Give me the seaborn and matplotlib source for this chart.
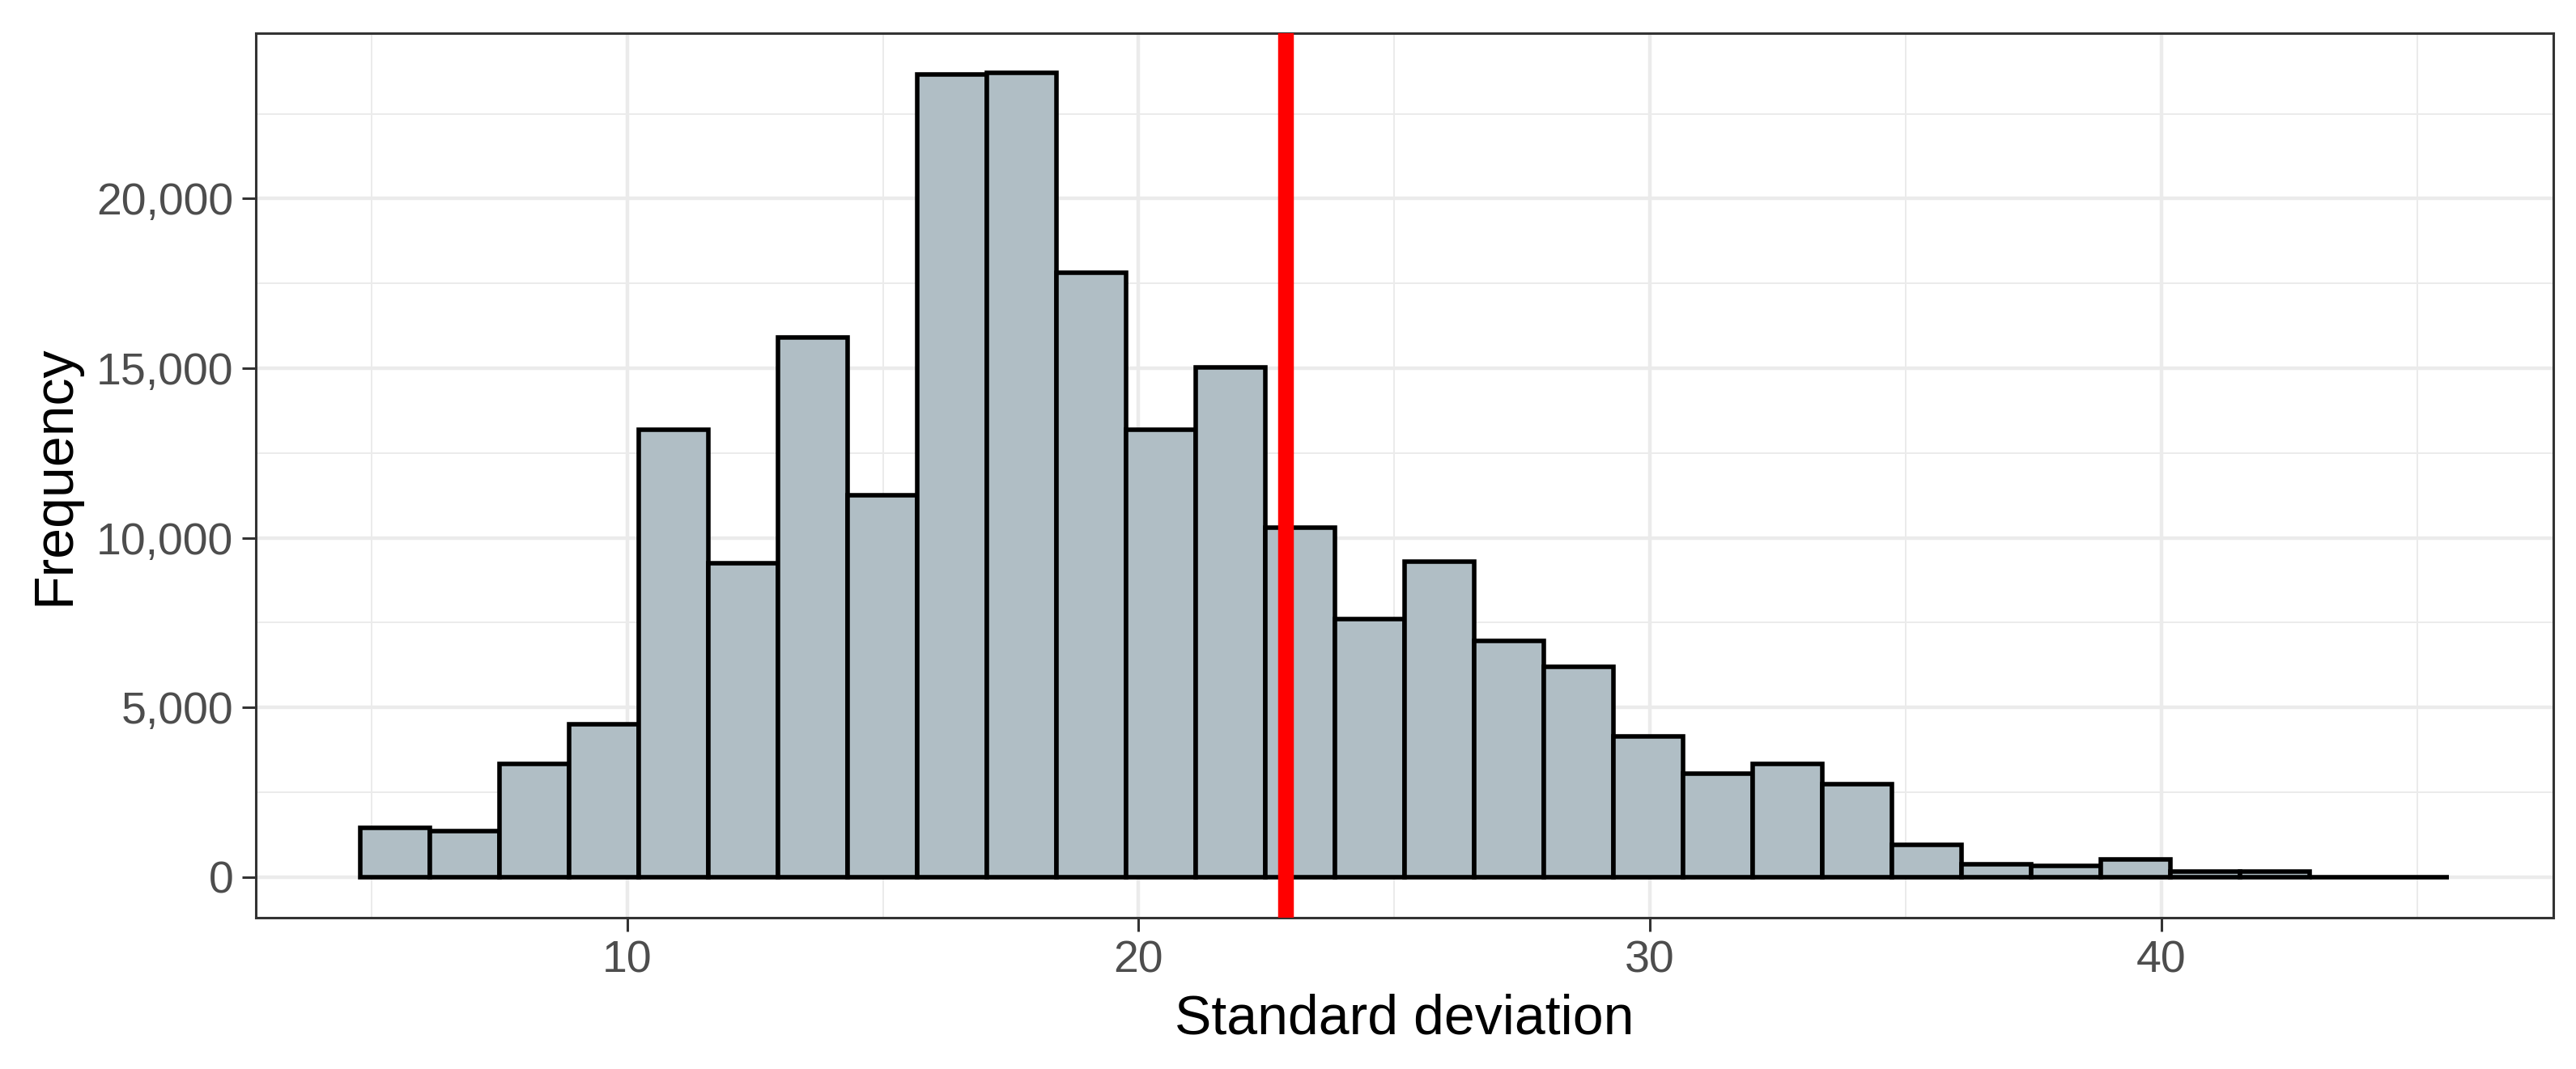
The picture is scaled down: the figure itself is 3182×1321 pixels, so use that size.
import numpy as np
import pandas as pd
import seaborn as sns
import matplotlib
matplotlib.use("Agg")
import matplotlib.pyplot as plt
from matplotlib.ticker import FixedLocator, StrMethodFormatter

# histogram counts (30 bins)
counts = [1450, 1360, 3340, 4510, 13180, 9260, 15910, 11250, 23660, 23700,
          17820, 13180, 15030, 10290, 7610, 9310, 6960, 6190, 4140, 3060,
          3340, 2740, 950, 390, 340, 530, 170, 170, 0, 0]
bin_lo = 4.78
bin_hi = 45.62
n_bins = 30
mean_sd = 22.87

x_ticks = [10, 20, 30, 40]
y_ticks = [0, 5000, 10000, 15000, 20000]

width = (bin_hi - bin_lo) / n_bins
centers = np.linspace(bin_lo + width / 2, bin_hi - width / 2, n_bins)
data = pd.DataFrame({"sd": centers, "n": counts})

sns.set_theme(style="whitegrid")
plt.rcParams['font.family'] = ['Liberation Sans', 'DejaVu Sans']

fig, ax = plt.subplots(figsize=(15.91, 6.605), dpi=200)
fig.subplots_adjust(left=0.0993, right=0.9911, top=0.9693, bottom=0.1419)

sns.histplot(data=data, x="sd", weights="n", bins=n_bins, binrange=(bin_lo, bin_hi),
             color="#B0BEC5", alpha=1, edgecolor="black", linewidth=2.0, ax=ax, zorder=2)
ax.axvline(mean_sd, color="#FF0000", linewidth=7, zorder=3)

span = bin_hi - bin_lo
ax.set_xlim(bin_lo - 0.05 * span, bin_hi + 0.05 * span)
ymax = max(counts)
ax.set_ylim(-0.05 * ymax, 1.05 * ymax)

ax.xaxis.set_major_locator(FixedLocator(x_ticks))
ax.yaxis.set_major_locator(FixedLocator(y_ticks))
ax.xaxis.set_minor_locator(FixedLocator([5, 15, 25, 35, 45]))
ax.yaxis.set_minor_locator(FixedLocator([2500, 7500, 12500, 17500, 22500]))
ax.yaxis.set_major_formatter(StrMethodFormatter("{x:,.0f}"))

ax.grid(which="major", color="#EBEBEB", linewidth=1.6)
ax.grid(which="minor", color="#EBEBEB", linewidth=0.7)
ax.set_axisbelow(True)
ax.set_facecolor("white")
for s in ax.spines.values():
    s.set_visible(True)
    s.set_color("#333333")
    s.set_linewidth(1.1)

ax.tick_params(which="major", length=6, width=1.1, color="#333333",
               labelsize=20, labelcolor="#4D4D4D", pad=4, bottom=True, left=True)
ax.tick_params(which="minor", length=0)

ax.set_xlabel("Standard deviation", fontsize=24.5, color="black", labelpad=5)
ax.set_ylabel("Frequency", fontsize=24.5, color="black", labelpad=7)

fig.savefig("out.png", dpi=200, facecolor="white")
